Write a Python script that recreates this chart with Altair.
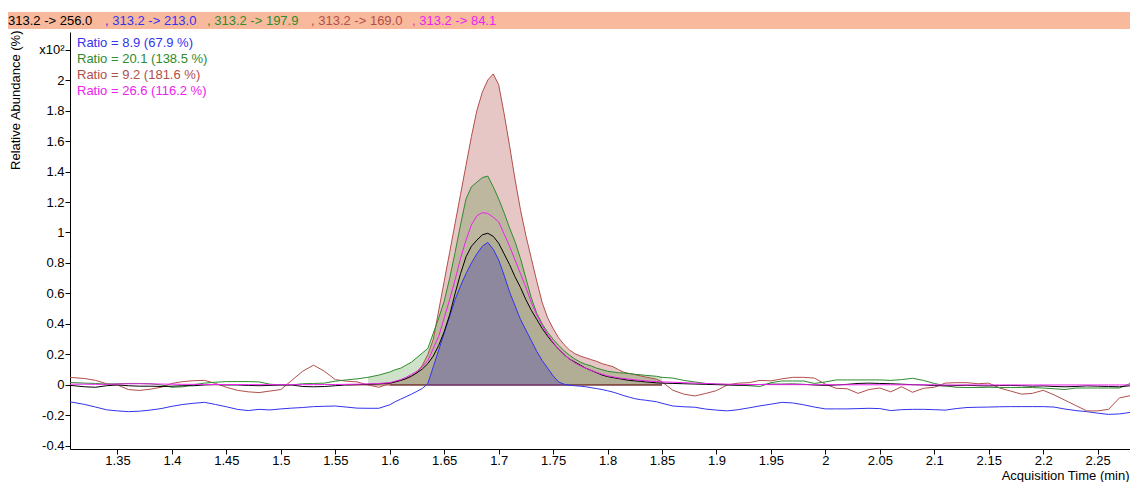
import altair as alt
import pandas as pd

# ---------------- data ----------------
TIME = ([round(1.30 + 0.01 * i, 3) for i in range(31)]
        + [round(1.605 + 0.005 * i, 3) for i in range(50)]
        + [round(1.86 + 0.01 * i, 3) for i in range(44)])

ION_256 = [0.0, -0.005, -0.012, -0.015, -0.005, 0.0, -0.005, -0.008, -0.008, -0.01,
           -0.008, -0.005, -0.005, 0.0, 0.002, 0.0, 0.0, -0.003, -0.005, -0.003,
           0.0, 0.0, -0.01, -0.012, -0.01, -0.005, 0.0, 0.002, 0.004, 0.007,
           0.012,
           0.02, 0.03, 0.042, 0.06, 0.08, 0.105, 0.14, 0.19, 0.26, 0.35,
           0.46, 0.6, 0.73, 0.84, 0.91, 0.95, 0.985, 0.995, 0.975, 0.93,
           0.86, 0.79, 0.71, 0.64, 0.56, 0.49, 0.43, 0.37, 0.32, 0.275,
           0.235, 0.2, 0.17, 0.15, 0.13, 0.11, 0.095, 0.08, 0.065, 0.055,
           0.048, 0.042, 0.036, 0.03, 0.027, 0.024, 0.02, 0.017, 0.014, 0.012,
           0.01, 0.008, 0.006, 0.004, 0.002, 0.0, -0.002, 0.0, 0.003, 0.005,
           0.005, 0.006, 0.004, 0.0, -0.003, 0.0, 0.004, 0.01, 0.012, 0.01,
           0.008, 0.005, 0.002, 0.0, -0.004, -0.006, -0.004, -0.002, -0.005, -0.006,
           -0.004, -0.003, -0.005, -0.008, -0.006, -0.01, -0.012, -0.01, -0.006, -0.008,
           -0.01, -0.012, -0.005, -0.005]

ION_213 = [-0.105, -0.115, -0.128, -0.145, -0.163, -0.17, -0.175, -0.172, -0.165, -0.155,
           -0.14, -0.128, -0.12, -0.114, -0.128, -0.143, -0.16, -0.168, -0.16, -0.164,
           -0.157, -0.152, -0.148, -0.142, -0.14, -0.138, -0.145, -0.152, -0.153, -0.153,
           -0.13,
           -0.11, -0.093, -0.077, -0.06, -0.042, -0.022, 0.01, 0.12, 0.23, 0.34,
           0.45, 0.56, 0.65, 0.73, 0.8, 0.86, 0.91, 0.935, 0.89, 0.82,
           0.72, 0.61, 0.52, 0.43, 0.36, 0.29, 0.22, 0.16, 0.11, 0.06,
           0.02, 0.005, -0.002, -0.005, -0.008, -0.012, -0.018, -0.024, -0.03, -0.038,
           -0.047, -0.058, -0.07, -0.08, -0.09, -0.096, -0.1, -0.105, -0.11, -0.12,
           -0.138, -0.143, -0.146, -0.158, -0.165, -0.17, -0.162, -0.15, -0.137, -0.126,
           -0.114, -0.118, -0.13, -0.145, -0.157, -0.157, -0.157, -0.155, -0.153, -0.155,
           -0.168, -0.162, -0.16, -0.16, -0.162, -0.165, -0.155, -0.148, -0.146, -0.145,
           -0.143, -0.142, -0.142, -0.142, -0.142, -0.145, -0.158, -0.168, -0.175, -0.185,
           -0.193, -0.19, -0.18, -0.2]

ION_197 = [0.018, 0.015, 0.012, 0.01, 0.005, 0.008, 0.01, 0.01, 0.008, 0.0,
           -0.015, -0.012, 0.002, 0.012, 0.018, 0.022, 0.022, 0.022, 0.02, 0.005,
           0.0, 0.0, 0.008, 0.01, 0.012, 0.025, 0.033, 0.04, 0.05, 0.065,
           0.085,
           0.1, 0.11, 0.13, 0.15, 0.18, 0.21, 0.24, 0.34, 0.44, 0.55,
           0.7, 0.87, 1.05, 1.22, 1.3, 1.33, 1.36, 1.37, 1.3, 1.22,
           1.13, 1.03, 0.94, 0.83, 0.7, 0.57, 0.47, 0.4, 0.345, 0.3,
           0.26, 0.225, 0.195, 0.17, 0.15, 0.135, 0.125, 0.11, 0.1, 0.09,
           0.085, 0.08, 0.078, 0.075, 0.07, 0.067, 0.063, 0.06, 0.057, 0.05,
           0.045, 0.03, 0.02, 0.01, 0.005, 0.003, 0.0, -0.005, -0.01, 0.015,
           0.026, 0.026, 0.026, 0.01, 0.02, 0.033, 0.033, 0.033, 0.033, 0.033,
           0.03, 0.035, 0.044, 0.03, 0.01, -0.005, -0.015, -0.017, -0.017, -0.015,
           -0.017, -0.017, -0.017, -0.017, -0.02, -0.025, -0.03, -0.02, -0.02, -0.02,
           -0.02, -0.02, 0.01, -0.005]

ION_169 = [0.05, 0.048, 0.042, 0.03, 0.008, 0.0, -0.03, -0.036, -0.028, -0.015,
           0.01, 0.022, 0.028, 0.03, 0.01, -0.015, -0.035, -0.045, -0.05, -0.04,
           -0.03, 0.03, 0.09, 0.13, 0.09, 0.035, 0.025, 0.02, 0.0, -0.015,
           0.01,
           0.02, 0.03, 0.04, 0.055, 0.08, 0.13, 0.2, 0.3, 0.49, 0.68,
           0.87, 1.06, 1.25, 1.44, 1.63, 1.8, 1.92, 2.0, 2.04, 1.97,
           1.78, 1.57, 1.35, 1.15, 0.98, 0.83, 0.68, 0.54, 0.44, 0.37,
           0.31, 0.265, 0.23, 0.205, 0.19, 0.178, 0.166, 0.155, 0.14, 0.13,
           0.12, 0.1, 0.083, 0.075, 0.068, 0.06, 0.052, 0.045, 0.038, 0.02,
           -0.035, -0.06, -0.072, -0.056, -0.037, 0.0, 0.012, 0.015, 0.03, 0.027,
           0.04, 0.05, 0.05, 0.045, 0.005, -0.022, -0.025, -0.055, -0.03, -0.02,
           -0.045, -0.012, -0.048, -0.022, -0.015, 0.012, 0.015, 0.015, 0.008, 0.012,
           -0.02, -0.04, -0.06, -0.055, -0.035, -0.065, -0.1, -0.135, -0.17, -0.17,
           -0.16, -0.085, -0.07, -0.055]

ION_84 = [0.004, 0.005, 0.005, 0.004, 0.004, 0.006, 0.008, 0.008, 0.007, 0.006,
          0.005, 0.004, 0.004, 0.003, 0.003, 0.003, 0.003, 0.002, 0.002, 0.002,
          0.002, 0.002, 0.002, 0.002, 0.003, 0.003, 0.004, 0.005, 0.007, 0.01,
          0.015,
          0.025, 0.035, 0.05, 0.07, 0.09, 0.12, 0.16, 0.24, 0.32, 0.44,
          0.56, 0.69, 0.83, 0.95, 1.05, 1.11, 1.13, 1.125, 1.1, 1.07,
          0.99, 0.91, 0.82, 0.73, 0.64, 0.54, 0.46, 0.39, 0.33, 0.28,
          0.235, 0.2, 0.17, 0.145, 0.125, 0.11, 0.095, 0.082, 0.07, 0.06,
          0.053, 0.047, 0.042, 0.038, 0.034, 0.03, 0.027, 0.024, 0.022, 0.02,
          0.018, 0.015, 0.012, 0.01, 0.007, 0.005, 0.004, 0.003, 0.003, 0.002,
          0.002, 0.002, 0.002, 0.002, 0.002, 0.001, 0.001, 0.001, 0.001, 0.001,
          0.001, 0.001, 0.001, 0.001, 0.001, 0.0, 0.0, 0.0, 0.0, 0.0,
          0.0, 0.0, 0.0, 0.0, 0.0, 0.0, 0.0, 0.0, 0.0, 0.0,
          0.0, 0.0, 0.0, 0.0]

ION_NAMES = ["256.0", "213.0", "197.9", "169.0", "84.1"]
ION_VALUES = [ION_256, ION_213, ION_197, ION_169, ION_84]

# integration windows (peak fills): ion, start, end
FILL_IONS = ["169.0", "197.9", "256.0", "213.0"]
FILL_START = [1.60, 1.58, 1.60, 1.635]
FILL_END = [1.85, 1.85, 1.85, 1.765]

# integration baselines (drawn in this order)
BASE_IONS = ["256.0", "213.0", "169.0"]
BASE_START = [1.60, 1.635, 1.56]
BASE_END = [1.85, 1.765, 1.85]

TITLE_PARTS = ["313.2 -> 256.0", ", 313.2 -> 213.0", ", 313.2 -> 197.9",
               ", 313.2 -> 169.0", ", 313.2 -> 84.1"]
RATIO_TEXT = ["Ratio = 8.9 (67.9 %)", "Ratio = 20.1 (138.5 %)",
              "Ratio = 9.2 (181.6 %)", "Ratio = 26.6 (116.2 %)"]
X_TICKS = [1.35, 1.4, 1.45, 1.5, 1.55, 1.6, 1.65, 1.7, 1.75, 1.8, 1.85, 1.9,
           1.95, 2.0, 2.05, 2.1, 2.15, 2.2, 2.25]
Y_TICKS = [-0.4, -0.2, 0, 0.2, 0.4, 0.6, 0.8, 1, 1.2, 1.4, 1.6, 1.8, 2, 2.2]

# ---------------- styling ----------------
FONT = "Liberation Sans"
LINE_COLORS = {"256.0": "#000000", "213.0": "#3333EE", "197.9": "#2E8B2E",
               "169.0": "#B0504A", "84.1": "#EE22EE"}
FILL_STYLE = {"169.0": ("#E7C6C6", 1.0), "197.9": ("#3C8C28", 0.25),
              "256.0": ("#000000", 0.05), "213.0": ("#8E889E", 1.0)}
TITLE_COLORS = ["#000000", "#3333EE", "#2E8B2E", "#B0504A", "#EE22EE"]
TITLE_X = [-62, 35, 137, 241, 342]
RATIO_COLORS = ["#3333EE", "#2E8B2E", "#B0504A", "#EE22EE"]
RATIO_Y = [11, 27, 43, 59]

W, H = 1060, 417

rows = []
for name, vals in zip(ION_NAMES, ION_VALUES):
    for t, v in zip(TIME, vals):
        rows.append({"t": t, "v": v, "ion": name, "base": 0.0})
df = pd.DataFrame(rows)

x_scale = alt.Scale(domain=[1.3064, 2.2797], nice=False, zero=False)
y_scale = alt.Scale(domain=[-0.42, 2.315], nice=False, zero=False)

x_axis = alt.Axis(values=X_TICKS, title="Acquisition Time (min)",
                  labelExpr="replace(format(datum.value, '~g'), '\u2212', '-')",
                  grid=False, tickSize=5, labelPadding=0, labelFlush=False,
                  titleAlign="right", titleBaseline="bottom",
                  titleX=W - 1, titleY=33, titleFontWeight="normal")
y_axis = alt.Axis(values=Y_TICKS, title="Relative Abundance (%)",
                  labelExpr="datum.value > 2.1 ? 'x10\u00b2' : replace(format(datum.value, '~g'), '\u2212', '-')",
                  grid=False, tickSize=5, labelPadding=1, labelFlush=False,
                  titleAngle=270, titleAlign="right", titleBaseline="top",
                  titleX=-61, titleY=-2, titleFontWeight="normal")


def X(field="t"):
    return alt.X(f"{field}:Q", scale=x_scale, axis=x_axis)


def Y(field="v"):
    return alt.Y(f"{field}:Q", scale=y_scale, axis=y_axis)


layers = []

# title bar
one = pd.DataFrame({"k": [0]})
layers.append(alt.Chart(one).mark_rect(color="#F9B99C").encode(
    x=alt.value(-62), x2=alt.value(W), y=alt.value(-20), y2=alt.value(-3)))
for txt, col, px in zip(TITLE_PARTS, TITLE_COLORS, TITLE_X):
    layers.append(alt.Chart(one).mark_text(
        align="left", baseline="middle", font=FONT, fontSize=13, color=col
    ).encode(x=alt.value(px), y=alt.value(-11), text=alt.value(txt)))

# peak fills
for ion, t0, t1 in zip(FILL_IONS, FILL_START, FILL_END):
    col, op = FILL_STYLE[ion]
    layers.append(alt.Chart(df).transform_filter(
        (alt.datum.ion == ion) & (alt.datum.t >= t0) & (alt.datum.t <= t1)
    ).mark_area(color=col, opacity=op, clip=True).encode(
        x=X(), y=Y(), y2=alt.Y2("base:Q")))

# integration baselines
for ion, t0, t1 in zip(BASE_IONS, BASE_START, BASE_END):
    seg = pd.DataFrame({"t0": [t0], "t1": [t1], "b": [0.0]})
    layers.append(alt.Chart(seg).mark_rule(
        color=LINE_COLORS[ion], strokeWidth=1, clip=True).encode(
        x=X("t0"), x2=alt.X2("t1:Q"), y=Y("b")))

# chromatogram traces
for ion in ["213.0", "169.0", "197.9", "256.0", "84.1"]:
    layers.append(alt.Chart(df).transform_filter(alt.datum.ion == ion).mark_line(
        color=LINE_COLORS[ion], strokeWidth=1, clip=True, interpolate="linear"
    ).encode(x=X(), y=Y(), order="t:Q"))

# ratio annotations
for txt, col, py in zip(RATIO_TEXT, RATIO_COLORS, RATIO_Y):
    layers.append(alt.Chart(one).mark_text(
        align="left", baseline="middle", font=FONT, fontSize=13, color=col
    ).encode(x=alt.value(7), y=alt.value(py), text=alt.value(txt)))

chart = alt.layer(*layers).properties(
    width=W, height=H,
    autosize=alt.AutoSizeParams(type="none"),
    padding={"left": 62, "top": 24, "right": 0, "bottom": 33},
    background="#FFFFFF",
).configure_view(strokeWidth=0).configure_axis(
    domainColor="#000000", tickColor="#000000", labelColor="#000000",
    titleColor="#000000", labelFont=FONT, titleFont=FONT,
    labelFontSize=13, titleFontSize=13, domainWidth=1, tickWidth=1,
)

chart.save("out.html", embed_options={"renderer": "svg", "actions": False})
